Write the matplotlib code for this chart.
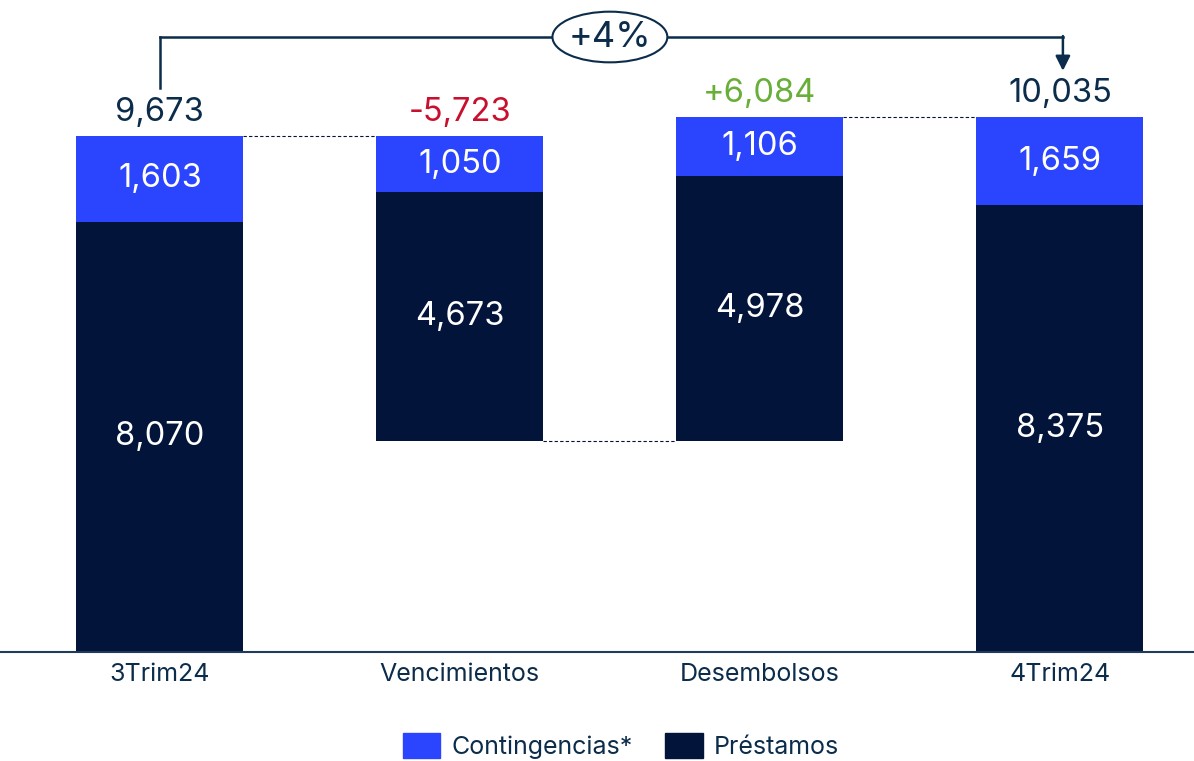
import matplotlib.pyplot as plt
from matplotlib.patches import Patch, Ellipse

plt.rcParams['font.family'] = ['Inter', 'DejaVu Sans']

# data
categories = ["3Trim24", "Vencimientos", "Desembolsos", "4Trim24"]
prestamos = [8070, 4673, 4978, 8375]
contingencias = [1603, 1050, 1106, 1659]
bases = [0, 3950, 3950, 0]
top_labels = ["9,673", "-5,723", "+6,084", "10,035"]
top_colors = ["#0B2C4A", "#C8102E", "#6AAE3A", "#0B2C4A"]
growth_label = "+4%"

C_CONT = "#2B45FF"
C_PRES = "#03143B"
C_TEXT = "#0B2C4A"

fig = plt.figure(figsize=(11.94, 7.61), dpi=100)
ax = fig.add_axes([0.0, 109 / 761, 1.0, 652 / 761])

x = list(range(len(categories)))
w = 0.557
ax.bar(x, prestamos, w, bottom=bases, color=C_PRES)
tops_p = [b + p for b, p in zip(bases, prestamos)]
ax.bar(x, contingencias, w, bottom=tops_p, color=C_CONT)
totals = [t + c for t, c in zip(tops_p, contingencias)]

for i in x:
    ax.text(i, bases[i] + prestamos[i] / 2, f"{prestamos[i]:,}", color="white",
            ha="center", va="center", fontsize=23.5)
    ax.text(i, tops_p[i] + contingencias[i] / 2, f"{contingencias[i]:,}", color="white",
            ha="center", va="center", fontsize=23.5)
    ax.text(i, totals[i] + 150, top_labels[i], color=top_colors[i],
            ha="center", va="bottom", fontsize=23.5)

# dashed connectors
dash = dict(color=C_PRES, lw=0.8, ls=(0, (3, 2)))
ax.plot([w / 2, 1 - w / 2], [totals[0], totals[0]], **dash)
ax.plot([1 + w / 2, 2 - w / 2], [bases[1], bases[1]], **dash)
ax.plot([2 + w / 2, 3 - w / 2], [totals[2], totals[2]], **dash)

# growth bracket
yb = 11534
ax.plot([0, 0], [10578, yb], color=C_TEXT, lw=1.8, clip_on=False)
ax.plot([0, 3.01], [yb, yb], color=C_TEXT, lw=1.8, clip_on=False)
ax.annotate("", xy=(3.01, 10900), xytext=(3.01, yb + 17),
            arrowprops=dict(arrowstyle="-|>", color=C_TEXT, lw=1.8,
                            mutation_scale=22, shrinkA=0, shrinkB=0),
            annotation_clip=False)
ax.add_patch(Ellipse((1.5, yb), 0.383, 950, facecolor="white", edgecolor=C_TEXT,
                     lw=1.5, clip_on=False, zorder=3))
ax.text(1.5, yb, growth_label, ha="center", va="center", fontsize=26,
        color=C_TEXT, zorder=4)

ax.set_xlim(-0.533, 3.447)
ax.set_ylim(0, 12228)
ax.set_xticks(x)
ax.set_xticklabels(categories, fontsize=18, color=C_TEXT)
ax.tick_params(axis="x", length=0, pad=8)
ax.set_yticks([])
for s in ["top", "left", "right"]:
    ax.spines[s].set_visible(False)
ax.spines["bottom"].set_color("#1F3A5A")
ax.spines["bottom"].set_linewidth(1.5)

handles = [Patch(color=C_CONT, label="Contingencias*"),
           Patch(color=C_PRES, label="Préstamos")]
leg = fig.legend(handles=handles, loc="center", bbox_to_anchor=(0.52, 0.02),
                 ncol=2, frameon=False, fontsize=18, handlelength=1.5,
                 handleheight=1.2, handletextpad=0.45, columnspacing=1.3)
for t in leg.get_texts():
    t.set_color(C_TEXT)

fig.savefig("out.png", dpi=100)
